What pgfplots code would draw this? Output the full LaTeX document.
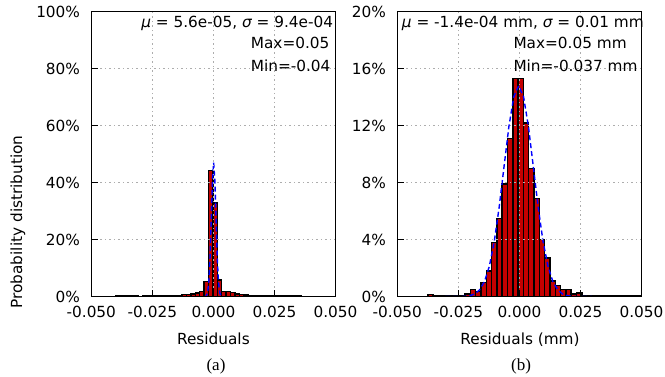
\documentclass[border=0pt]{standalone}
\usepackage{fontspec}
\setmainfont{DejaVu Sans}
\newfontfamily\capfont{Liberation Serif}
\usepackage{pgfplots}
\pgfplotsset{compat=1.18}
\definecolor{histred}{RGB}{196,0,0}
\pgfplotsset{
  histaxis/.style={
    scale only axis, width=244.2pt, height=285pt,
    xmin=-0.05, xmax=0.05, ymin=0,
    xtick={-0.05,-0.025,0,0.025,0.05},
    xticklabels={-0.050,-0.025,0.000,0.025,0.050},
    xtick pos=left, ytick pos=left,
    tick align=inside,
    major tick length=7pt,
    tick style={solid, draw=black, line width=1.5pt},
    axis line style={black, line width=1.5pt},
    xmajorgrids, ymajorgrids,
    major grid style={color=black!32, line width=1.4pt, dash pattern=on 1.4pt off 3.1pt},
    axis on top,
    scaled x ticks=false, scaled y ticks=false,
    minor tick num=0,
    tick label style={font=\fontsize{15.3}{18}\selectfont},
    xticklabel style={yshift=-4pt},
    yticklabel style={xshift=-6pt},
  },
  histbar/.style={ybar interval, draw=black, line width=1.5pt, fill=histred},
  gauss/.style={blue, line width=1.4pt, dash pattern=on 5pt off 3pt, no markers},
}
\begin{document}
\fontsize{15.3}{18}\selectfont
\begin{tikzpicture}
\useasboundingbox (0,0) rectangle (665pt,377pt);
% ---------------- (a)
\begin{axis}[histaxis, at={(91.3pt,80.3pt)}, anchor=south west,
  ymax=100, ytick={0,20,40,60,80,100},
  yticklabels={0\%,20\%,40\%,60\%,80\%,100\%}]
\addplot[histbar] coordinates {
(-0.0398,0.4) (-0.0380,0.3) (-0.0362,0.2) (-0.0344,0.2) (-0.0326,0.2)
(-0.0308,0.15) (-0.0290,0.2) (-0.0272,0.2) (-0.0254,0.2) (-0.0236,0.25)
(-0.0218,0.3) (-0.0200,0.5) (-0.0182,0.5) (-0.0164,0.35) (-0.0146,0.3)
(-0.0128,0.7) (-0.0110,0.8) (-0.0092,1.0) (-0.0074,1.3) (-0.0056,1.9)
(-0.0038,5.3) (-0.0020,44.2) (-0.0002,32.8) (0.0016,5.8) (0.0034,1.9)
(0.0052,1.8) (0.0070,1.5) (0.0088,0.9) (0.0106,0.8) (0.0124,0.6)
(0.0142,0.5) (0.0160,0.5) (0.0178,0.4) (0.0196,0.4) (0.0214,0.4)
(0.0232,0.3) (0.0250,0.3) (0.0268,0.3) (0.0286,0.3) (0.0304,0.3)
(0.0322,0.25) (0.0340,0.2) (0.0358,0.15) (0.0376,0.1) (0.0394,0.1)
(0.0412,0.1) (0.0430,0.05) (0.0448,0.05) (0.0466,0.05) (0.0484,0.05)
(0.0502,0.05)
};
\addplot[gauss] coordinates {
(-0.0039,0) (-0.0034,0.05) (-0.0029,0.29) (-0.0024,1.37) (-0.0019,4.89)
(-0.0014,13.2) (-0.0009,26.7) (-0.0004,40.8) (0.0001,47) (0.0006,40.8)
(0.0011,26.7) (0.0016,13.2) (0.0021,4.89) (0.0026,1.37) (0.0031,0.29)
(0.0036,0.05) (0.0041,0)
};
\end{axis}
% ---------------- (b)
\begin{axis}[histaxis, at={(397.3pt,80.3pt)}, anchor=south west,
  ymax=20, ytick={0,4,8,12,16,20},
  yticklabels={0\%,4\%,8\%,12\%,16\%,20\%}]
\addplot[histbar] coordinates {
(-0.037500,0.15) (-0.035325,0.05) (-0.033150,0.05) (-0.030975,0.05)
(-0.028800,0.1) (-0.026625,0.1) (-0.024450,0.1) (-0.022275,0.2)
(-0.020100,0.5) (-0.017925,0.35) (-0.015750,1.0) (-0.013575,1.8)
(-0.011400,3.8) (-0.009225,5.5) (-0.007050,7.9) (-0.004875,11.1)
(-0.002700,15.3) (-0.000525,15.3) (0.001650,12.2) (0.003825,9.0)
(0.006000,6.9) (0.008175,4.0) (0.010350,2.7) (0.012525,1.1)
(0.014700,0.8) (0.016875,0.5) (0.019050,0.5) (0.021225,0.2)
(0.023400,0.25) (0.025575,0.05) (0.027750,0.05) (0.029925,0.05)
(0.032100,0.05) (0.034275,0.05) (0.036450,0.05) (0.038625,0.05)
(0.040800,0.05) (0.042975,0.05) (0.045150,0.05) (0.047325,0.05)
(0.049500,0.05)
};
\addplot[gauss] coordinates {
(-0.0303,0) (-0.0283,0.001) (-0.0263,0.002) (-0.0243,0.006) (-0.0223,0.022)
(-0.0203,0.07) (-0.0183,0.19) (-0.0163,0.48) (-0.0143,1.06) (-0.0123,2.14)
(-0.0103,3.86) (-0.0083,6.26) (-0.0063,9.12) (-0.0043,11.94) (-0.0023,14.03)
(-0.0003,14.8) (0.0017,14.03) (0.0037,11.94) (0.0057,9.12) (0.0077,6.26)
(0.0097,3.86) (0.0117,2.14) (0.0137,1.06) (0.0157,0.48) (0.0177,0.19)
(0.0197,0.07) (0.0217,0.022) (0.0237,0.006) (0.0257,0.002) (0.0277,0.001)
(0.0297,0)
};
\end{axis}
% ---------------- texts
\begin{scope}[every node/.style={font=\fontsize{15.3}{18}\selectfont, inner sep=0pt}]
\node[anchor=base east] at (333.3pt,349.5pt) {{\itshape μ} = 5.6e-05, {\itshape σ} = 9.4e-04};
\node[anchor=base west] at (250.7pt,328pt) {Max=0.05};
\node[anchor=base west] at (250.7pt,305.5pt) {Min=-0.04};
\node[anchor=base west] at (401.7pt,349.5pt) {{\itshape μ} = -1.4e-04 mm, {\itshape σ} = 0.01 mm};
\node[anchor=base west] at (513.3pt,328pt) {Max=0.05 mm};
\node[anchor=base west] at (513.3pt,305.5pt) {Min=-0.037 mm};
\node[anchor=base] at (213.4pt,32pt) {Residuals};
\node[anchor=base] at (520pt,32pt) {Residuals (mm)};
\node[rotate=90, anchor=base] at (22pt,155pt) {Probability distribution};
\node[anchor=base, font=\capfont\fontsize{17}{20}\selectfont] at (216pt,6pt) {(a)};
\node[anchor=base, font=\capfont\fontsize{17}{20}\selectfont] at (521pt,6pt) {(b)};
\end{scope}
\end{tikzpicture}
\end{document}
